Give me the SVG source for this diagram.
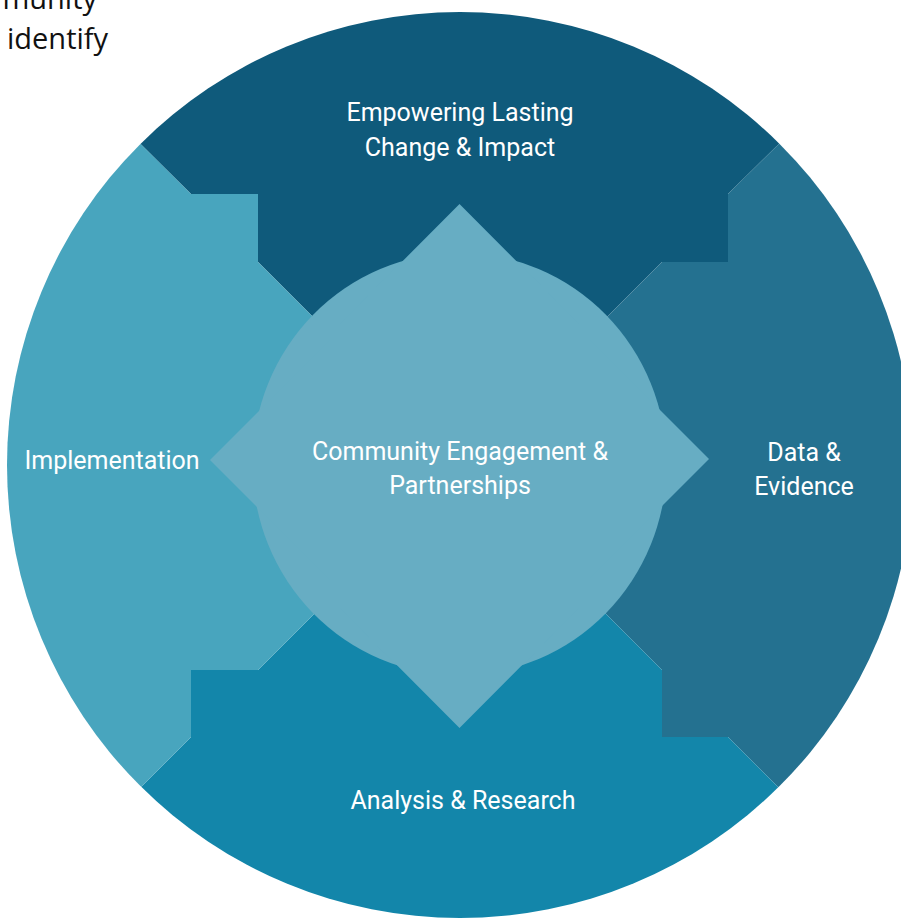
<svg xmlns="http://www.w3.org/2000/svg" width="901" height="920" viewBox="0 0 901 920">
<defs>
<clipPath id="ring"><circle cx="460" cy="465" r="453"/></clipPath>
<style>
.lbl{font-family:Roboto,"Liberation Sans",sans-serif;font-size:25px;fill:#ffffff;text-anchor:middle}
.note{font-family:"Open Sans","DejaVu Sans",sans-serif;font-size:29px;fill:#111111}
</style>
</defs>
<rect width="901" height="920" fill="#ffffff"/>
<text class="note" x="97" y="9" text-anchor="end">munity</text>
<text class="note" x="7" y="49">identify</text>
<g clip-path="url(#ring)">
<g id="seg-top">
<path d="M460,465 L312,316 L258,262 L258,194 L191,194 L60,64 L60,-50 L860,-50 L860,64 L728,194 L728,262 L662,262 L608,316 Z" fill="#0f5a7b"/>
</g>
<g id="seg-right">
<path d="M460,465 L608,316 L662,262 L728,262 L728,194 L860,64 L960,64 L960,869 L860,869 L728,737 L662,737 L662,670 L606,614 Z" fill="#247190"/>
</g>
<g id="seg-bottom">
<path d="M460,465 L606,614 L662,670 L662,737 L728,737 L860,869 L860,980 L60,980 L60,868 L191,737 L191,670 L258,670 L313,615 Z" fill="#1386aa"/>
</g>
<g id="seg-left">
<path d="M460,465 L313,615 L258,670 L191,670 L191,737 L60,868 L-50,868 L-50,64 L60,64 L191,194 L258,194 L258,262 L312,316 Z" fill="#48a5be"/>
</g>
</g>
<g id="center">
<ellipse cx="459.5" cy="464" rx="207" ry="211" fill="#67adc3"/>
<path d="M459.5,204 L579,324 L340,324 Z M459.5,728 L579,608 L340,608 Z M210,460 L330,340 L330,580 Z M709,459 L590,340 L590,578 Z" fill="#67adc3"/>
</g>
<g id="connectors"></g>
<g id="labels">
<text class="lbl" x="460" y="121">Empowering Lasting</text>
<text class="lbl" x="460" y="156">Change &amp; Impact</text>
<text class="lbl" x="460" y="460">Community Engagement &amp;</text>
<text class="lbl" x="460" y="494">Partnerships</text>
<text class="lbl" x="804" y="461">Data &amp;</text>
<text class="lbl" x="804" y="495">Evidence</text>
<text class="lbl" x="463" y="809">Analysis &amp; Research</text>
<text class="lbl" x="112" y="469">Implementation</text>
</g>
</svg>
